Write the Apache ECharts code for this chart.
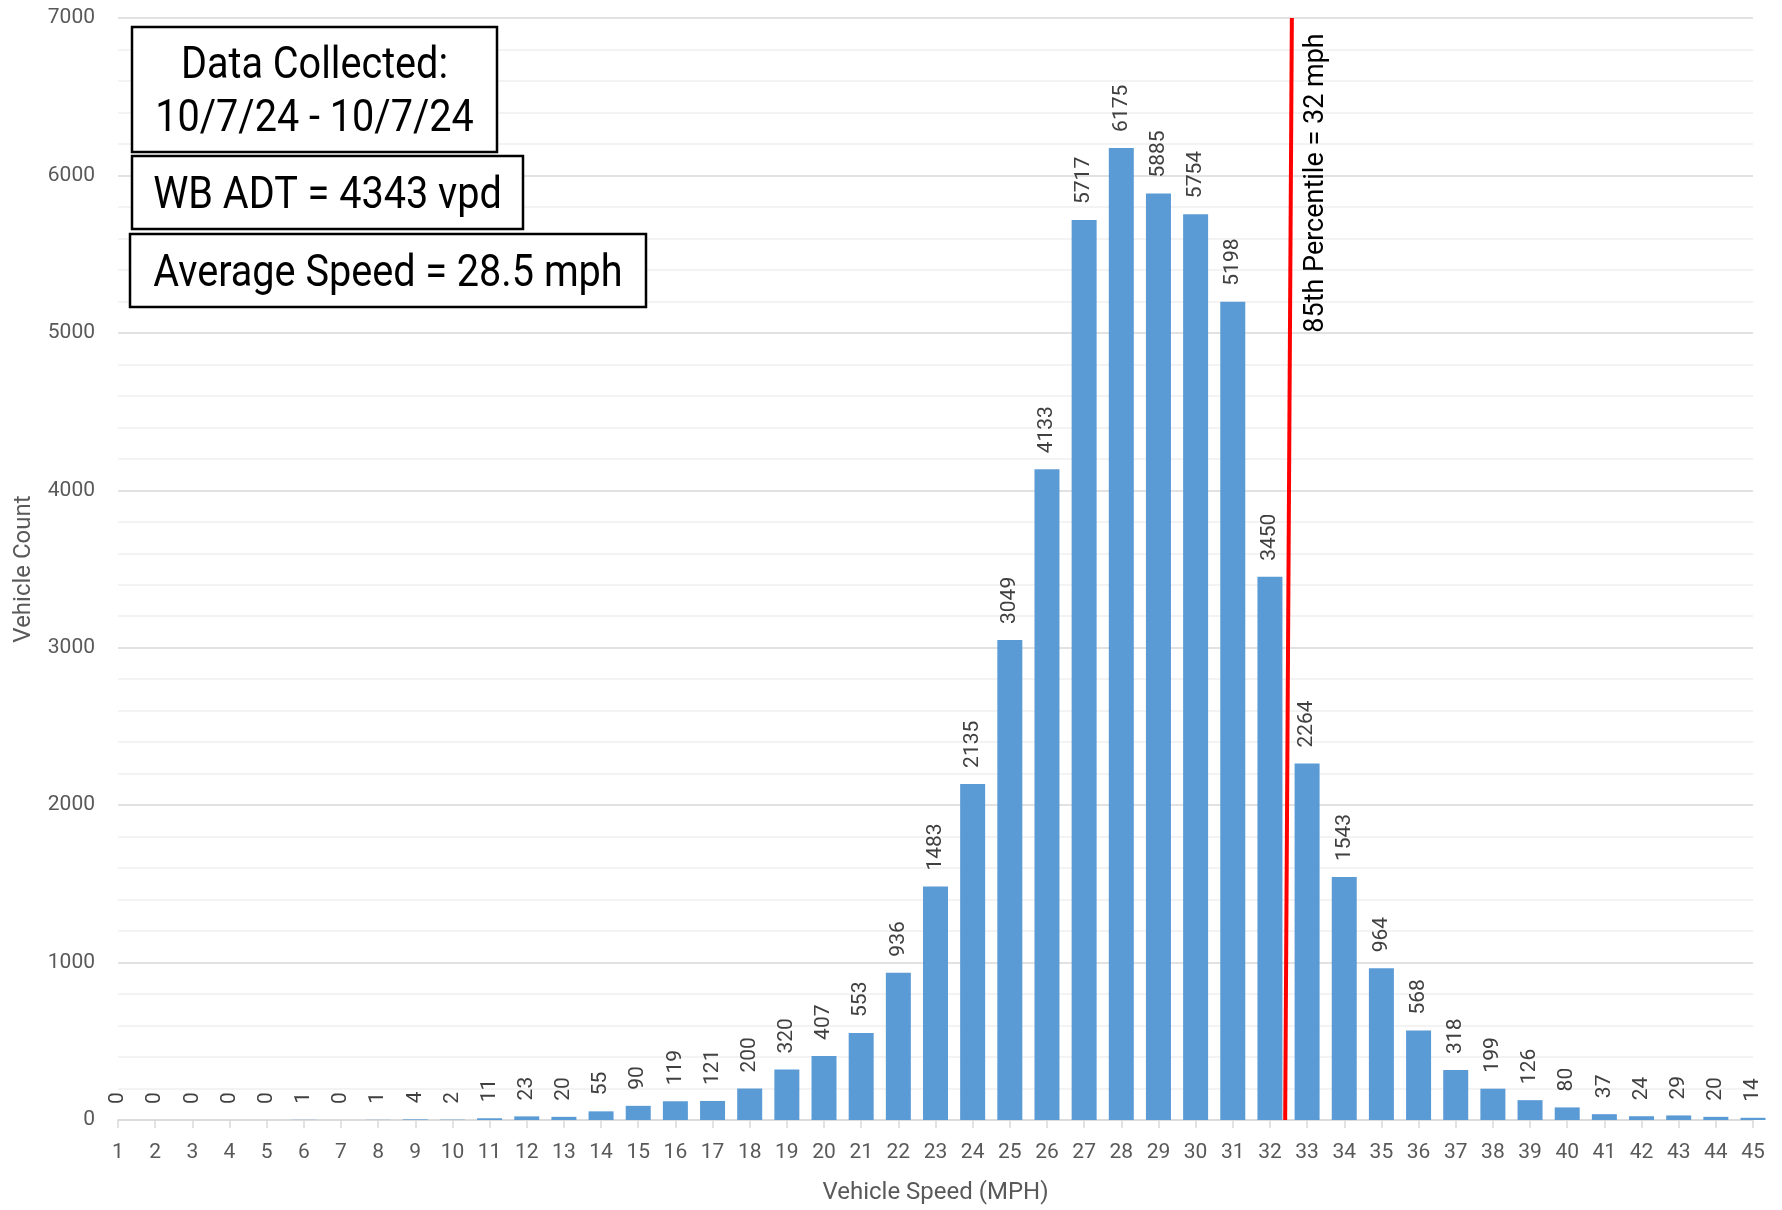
<!DOCTYPE html>
<html>
<head>
<meta charset="utf-8">
<title>Vehicle Speed Distribution</title>
<script src="https://cdn.jsdelivr.net/npm/echarts@6/dist/echarts.min.js"></script>
<style>
  html, body { margin: 0; padding: 0; background: #ffffff; }
  #chart { width: 1782px; height: 1210px; }
</style>
</head>
<body>
<div id="chart"></div>
<script>
// Speed bins (mph) and vehicle counts per bin
const speeds = [1,2,3,4,5,6,7,8,9,10,11,12,13,14,15,16,17,18,19,20,21,22,23,24,25,26,27,28,29,30,31,32,33,34,35,36,37,38,39,40,41,42,43,44,45];
const counts = [0,0,0,0,0,1,0,1,4,2,11,23,20,55,90,119,121,200,320,407,553,936,1483,2135,3049,4133,5717,6175,5885,5754,5198,3450,2264,1543,964,568,318,199,126,80,37,24,29,20,14];

// Y-axis range and major step
const yMin = 0;
const yMax = 7000;
const yStep = 1000;

// 85th percentile marker (drawn as a slightly slanted line from axis to top)
const pct85Line = [[32.41, 0], [32.59, 7000]];
const pct85Label = '85th Percentile = 32 mph';

// Summary boxes
const infoCollected = ['Data Collected:', '10/7/24 - 10/7/24'];
const infoAdt = 'WB ADT = 4343 vpd';
const infoAvg = 'Average Speed = 28.5 mph';

const axisFont = 'Roboto, "Liberation Sans", sans-serif';

const chart = echarts.init(document.getElementById('chart'));

function box(x, y, w, h) {
  return {
    type: 'rect',
    shape: { x: x, y: y, width: w, height: h },
    style: { fill: '#ffffff', stroke: '#000000', lineWidth: 2.5 },
    z: 100
  };
}
// Box captions use a slightly condensed Roboto
function boxText(cx, cy, text) {
  return {
    type: 'text',
    x: cx, y: cy,
    scaleX: 0.9,
    style: {
      text: text,
      fill: '#000000',
      font: '44px ' + axisFont,
      align: 'center',
      verticalAlign: 'middle'
    },
    z: 101
  };
}

const option = {
  backgroundColor: '#ffffff',
  animation: false,
  grid: { left: 118, right: 29, top: 18, bottom: 83, containLabel: false },
  xAxis: {
    type: 'value',
    min: speeds[0],
    max: speeds[speeds.length - 1],
    interval: 1,
    name: 'Vehicle Speed (MPH)',
    nameLocation: 'middle',
    nameGap: 61,
    nameTextStyle: { fontFamily: axisFont, fontSize: 24, color: '#595959' },
    axisLine: { show: true, lineStyle: { color: '#d9d9d9', width: 1.5 } },
    axisTick: { show: true, length: 8, lineStyle: { color: '#d9d9d9', width: 1.5 } },
    axisLabel: { fontFamily: axisFont, fontSize: 21, color: '#595959', margin: 22 },
    splitLine: { show: false }
  },
  yAxis: {
    type: 'value',
    min: yMin,
    max: yMax,
    interval: yStep,
    name: 'Vehicle Count',
    nameLocation: 'middle',
    nameGap: 82,
    nameTextStyle: { fontFamily: axisFont, fontSize: 24, color: '#595959' },
    axisLine: { show: false },
    axisTick: { show: false },
    axisLabel: {
      fontFamily: axisFont, fontSize: 21, color: '#595959', margin: 23,
      formatter: v => String(v)
    },
    splitLine: { show: true, lineStyle: { color: '#d9d9d9', width: 1.5 } },
    minorTick: { show: false, splitNumber: 5 },
    minorSplitLine: { show: true, lineStyle: { color: '#efefef', width: 1.5 } }
  },
  series: [{
    type: 'bar',
    data: speeds.map((s, i) => [s, counts[i]]),
    barWidth: 25,
    clip: true,
    itemStyle: { color: '#5b9bd5' },
    label: {
      show: true,
      position: 'top',
      rotate: 90,
      align: 'left',
      verticalAlign: 'middle',
      distance: 16,
      fontFamily: axisFont,
      fontSize: 21,
      color: '#404040',
      formatter: p => String(p.value[1])
    },
    markLine: {
      silent: true,
      symbol: ['none', 'none'],
      label: { show: false },
      lineStyle: { color: '#ff0000', width: 4, type: 'solid' },
      data: [[{ coord: pct85Line[0] }, { coord: pct85Line[1] }]]
    }
  }],
  graphic: [
    box(132, 27, 365, 125),
    boxText(314.5, 67, infoCollected[0]),
    boxText(314.5, 120, infoCollected[1]),
    box(132, 156, 391, 73),
    boxText(327.5, 197, infoAdt),
    box(130, 234, 516, 73),
    boxText(388, 275, infoAvg),
    {
      type: 'text',
      x: 1316, y: 183,
      rotation: Math.PI / 2,
      style: {
        text: pct85Label,
        fill: '#000000',
        font: '27px ' + axisFont,
        align: 'center',
        verticalAlign: 'middle'
      },
      z: 100
    }
  ]
};

chart.setOption(option);
</script>
</body>
</html>
